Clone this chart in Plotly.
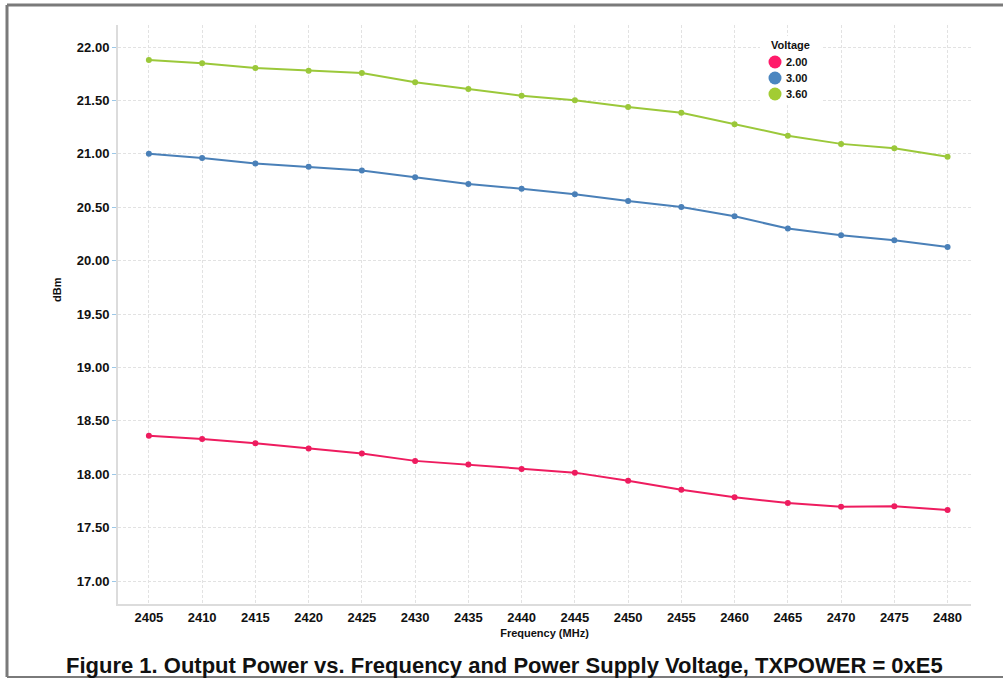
import plotly.graph_objects as go

freq = [2405, 2410, 2415, 2420, 2425, 2430, 2435, 2440, 2445, 2450, 2455, 2460, 2465, 2470, 2475, 2480]
v200 = [18.36, 18.33, 18.29, 18.24, 18.195, 18.125, 18.09, 18.05, 18.015, 17.94, 17.855, 17.785, 17.73, 17.695, 17.70, 17.665]
v300 = [21.00, 20.96, 20.91, 20.88, 20.843, 20.78, 20.718, 20.672, 20.621, 20.559, 20.502, 20.415, 20.30, 20.237, 20.19, 20.128]
v360 = [21.878, 21.847, 21.803, 21.778, 21.757, 21.67, 21.607, 21.543, 21.501, 21.438, 21.385, 21.277, 21.17, 21.093, 21.051, 20.972]
series_names = ["2.00", "3.00", "3.60"]
colors = ["#EE1C5F", "#4A80B8", "#9BC83A"]
legend_colors = ["#FF1A6A", "#4A86C0", "#A2CC33"]
yticks = [17.0, 17.5, 18.0, 18.5, 19.0, 19.5, 20.0, 20.5, 21.0, 21.5, 22.0]

FONT = "Liberation Sans"
W, H = 1003, 679
ML, MR, MT, MB = 118, 32, 25, 75
PW, PH = W - ML - MR, H - MT - MB


def px(x):
    return (x - ML) / PW


def py(y):
    return 1 - (y - MT) / PH


fig = go.Figure()
for name, vals, c in zip(series_names, [v200, v300, v360], colors):
    fig.add_trace(go.Scatter(x=freq, y=vals, mode="lines+markers", name=name,
                             line=dict(color=c, width=2),
                             marker=dict(color=c, size=6)))

annotations = [
    dict(text="<b>Figure 1. Output Power vs. Frequency and Power Supply Voltage, TXPOWER = 0xE5</b>",
         xref="paper", yref="paper", x=px(504), y=py(665), xanchor="center", yanchor="middle",
         showarrow=False, font=dict(family=FONT, size=22, color="#111")),
    dict(text="<b>Voltage</b>", xref="paper", yref="paper", x=px(769), y=py(45),
         xanchor="left", yanchor="middle", showarrow=False,
         font=dict(family=FONT, size=11, color="#111")),
    dict(text="<b>dBm</b>", xref="paper", yref="paper", x=px(57), y=py(290),
         xanchor="center", yanchor="middle", textangle=-90, showarrow=False,
         font=dict(family=FONT, size=11, color="#111")),
]
shapes = [
    dict(type="rect", xref="paper", yref="paper", x0=px(760), x1=px(822), y0=py(36), y1=py(103),
         fillcolor="white", line=dict(width=0), layer="above"),
    dict(type="line", xref="paper", yref="paper", x0=px(7), x1=px(1010), y0=py(5), y1=py(5),
         line=dict(color="#7a7a7a", width=3)),
    dict(type="line", xref="paper", yref="paper", x0=px(7), x1=px(7), y0=py(5), y1=py(677),
         line=dict(color="#7a7a7a", width=3)),
    dict(type="line", xref="paper", yref="paper", x0=px(7), x1=px(1010), y0=py(677), y1=py(677),
         line=dict(color="#7a7a7a", width=2)),
]
for i, (name, c) in enumerate(zip(series_names, legend_colors)):
    yy = 62 + 16 * i
    shapes.append(dict(type="circle", xref="paper", yref="paper", xsizemode="pixel", ysizemode="pixel",
                       xanchor=px(775), yanchor=py(yy), x0=-6.5, x1=6.5, y0=-6.5, y1=6.5,
                       fillcolor=c, line=dict(width=0), layer="above"))
    annotations.append(dict(text=f"<b>{name}</b>", xref="paper", yref="paper", x=px(784), y=py(yy),
                            xanchor="left", yanchor="middle", showarrow=False,
                            font=dict(family=FONT, size=11, color="#111")))

fig.update_layout(
    width=W, height=H,
    margin=dict(l=ML, r=MR, t=MT, b=MB),
    paper_bgcolor="white", plot_bgcolor="white",
    font=dict(family=FONT, color="#111"),
    showlegend=False,
    annotations=annotations,
    shapes=shapes,
)
fig.update_xaxes(range=[2402.1, 2482.2], tickvals=freq, ticktext=[f"<b>{f}</b>" for f in freq],
                 tickfont=dict(family=FONT, size=13, color="#111"),
                 showgrid=True, gridcolor="#e2e2e2", griddash="3px,2px", gridwidth=1,
                 showline=True, linecolor="#dcdcdc", linewidth=2, zeroline=False,
                 ticks="", title=dict(text="<b>Frequency (MHz)</b>", font=dict(family=FONT, size=11, color="#111"), standoff=6))
fig.update_yaxes(range=[16.785, 22.206], tickvals=yticks, ticktext=[f"<b>{t:.2f}</b>" for t in yticks],
                 tickfont=dict(family=FONT, size=13, color="#111"),
                 showgrid=True, gridcolor="#e2e2e2", griddash="3px,2px", gridwidth=1,
                 showline=True, linecolor="#dcdcdc", linewidth=2, zeroline=False,
                 ticks="outside", ticklen=4, tickcolor="#9cc8e8", tickwidth=1)

fig.write_html("out.html", config={"displayModeBar": False},
               post_script="document.body.style.margin='0';")
